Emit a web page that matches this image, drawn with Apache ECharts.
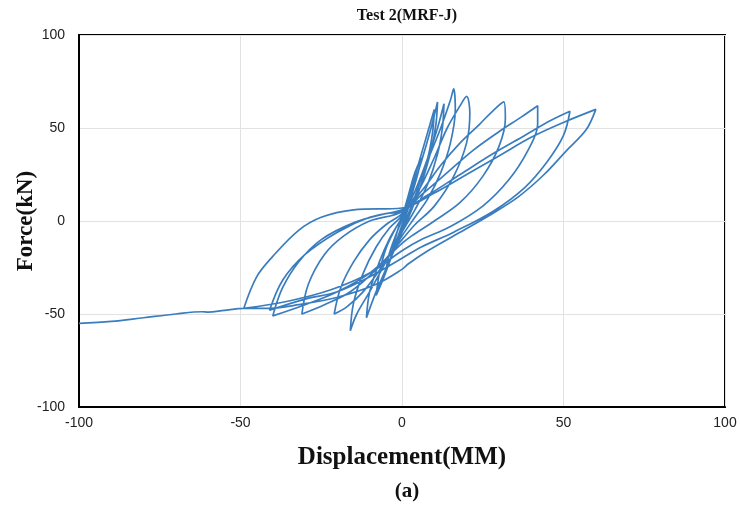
<!DOCTYPE html>
<html>
<head>
<meta charset="utf-8">
<script src="https://cdn.jsdelivr.net/npm/echarts@6/dist/echarts.min.js"></script>
<style>
  html, body { margin: 0; padding: 0; background: #fff; }
  #main { width: 740px; height: 507px; }
</style>
</head>
<body>
<div id="main"></div>
<script>
// hysteresis record, in test order [displacement mm, force kN]
var cycle1 = [[0,0],[1,6],[2,12],[3,16],[2.5,10],[1,2],[0,-4],[-1.5,-10],[-3,-16],[-2,-9],[-1,-3],[0,2]];
var cycle2 = [[2,14],[4,26],[6,34],[5,26],[3,14],[1,4],[0,-2],[-2,-12],[-4,-22],[-5,-27],[-4,-18],[-2,-8],[0,1]];
var cycle3 = [[3,18],[6,36],[8,48],[10,60],[9.5,48],[8,34],[5,18],[2,4],[0,-4],[-3,-18],[-6,-32],[-8,-40],[-7,-28],[-5,-15],[-2,-4],[0,2]];
var cycle4 = [[3,16],[6,32],[9,50],[11,64],[10.5,52],[9,38],[6,20],[3,6],[0,-6],[-4,-22],[-8,-38],[-11,-52],[-10,-38],[-7,-22],[-4,-10],[0,2]];
var cycle5 = [[4,16],[8,34],[11,50],[13,63],[12.5,50],[11,36],[8,20],[4,6],[0,-6],[-5,-22],[-10,-38],[-14,-50],[-16,-59],[-15,-44],[-12,-28],[-8,-14],[-4,-4],[0,3]];
var cycle6 = [[4,16],[8,33],[12,50],[15,65],[16,71],[16.5,60],[15,42],[12,26],[8,12],[4,2],[0,-8],[-6,-24],[-12,-38],[-17,-46],[-21,-50],[-19,-36],[-15,-22],[-10,-10],[-5,-2],[0,4]];
var cycle7 = [[5,16],[10,34],[14,50],[18,62],[20,67],[21,58],[20,42],[16,24],[10,8],[4,-2],[0,-10],[-8,-26],[-16,-38],[-24,-45],[-31,-50],[-29,-34],[-24,-18],[-18,-8],[-10,0],[0,5]];
var cycle8 = [[6,16],[12,30],[18,42],[24,52],[28,59],[31.5,64],[32,55],[30,40],[25,24],[18,10],[10,0],[3,-8],[0,-12],[-10,-28],[-20,-38],[-30,-45],[-40,-51],[-37,-36],[-32,-22],[-25,-10],[-15,-1],[-5,4],[0,5]];
var cycle9 = [[6,14],[14,26],[22,38],[30,48],[37,56],[42,62],[42,52],[39,38],[33,22],[25,8],[15,-3],[6,-10],[0,-16],[-10,-28],[-22,-37],[-35,-43],[-49,-47],[-45,-30],[-40,-19],[-32,-5],[-25,2],[-15,6],[0,7]];
var cycle10 = [[8,14],[18,25],[28,36],[38,46],[46,54],[52,59],[50,46],[45,32],[38,18],[28,5],[16,-6],[6,-14],[0,-20],[-10,-30],[-20,-38],[-30,-42],[-41,-48],[-37,-32],[-30,-18],[-20,-6],[-10,2],[0,6]];
var cycle11 = [[10,15],[20,25],[30,35],[40,45],[50,53],[60,60],[57,49],[51,38],[44,25],[36,13],[27,3],[17,-7],[8,-16],[2,-23],[0,-26],[-8,-34],[-20,-41],[-32,-45],[-42,-47],[-49,-47]];
var tail = [[-55,-48],[-60,-49],[-62,-48.8],[-70,-50],[-80,-52],[-90,-54],[-100,-55]];

var tickValues = [-100, -50, 0, 50, 100];

var record = [].concat(cycle1, cycle2, cycle3, cycle4, cycle5, cycle6,
  cycle7, cycle8, cycle9, cycle10, cycle11, tail);

var myChart = echarts.init(document.getElementById('main'));

var labelFont = "'Liberation Sans Narrow', 'Liberation Sans', sans-serif";
var titleFont = "'Liberation Serif', 'DejaVu Serif', serif";

var option = {
  animation: false,
  backgroundColor: '#fff',
  title: [{
    text: 'Test 2(MRF-J)',
    left: 402,
    top: 3,
    textAlign: 'center',
    textStyle: { fontFamily: titleFont, fontWeight: 'bold', fontSize: 16, color: '#111' }
  }, {
    text: '(a)',
    left: 402,
    top: 476,
    textAlign: 'center',
    textStyle: { fontFamily: titleFont, fontWeight: 'bold', fontSize: 21, color: '#111' }
  }],
  grid: {
    left: 79,
    right: 15,
    top: 35,
    bottom: 100,
    outerBoundsMode: 'none',
    containLabel: false,
    show: true,
    borderColor: '#000',
    borderWidth: 2
  },
  xAxis: {
    type: 'value',
    min: tickValues[0],
    max: tickValues[tickValues.length - 1],
    interval: 50,
    name: 'Displacement(MM)',
    nameLocation: 'middle',
    nameGap: 38,
    nameMoveOverlap: false,
    nameTextStyle: { fontFamily: titleFont, fontWeight: 'bold', fontSize: 25, color: '#111' },
    axisLine: { onZero: false, lineStyle: { color: '#000', width: 2 } },
    axisTick: { show: false },
    axisLabel: { margin: 9, fontFamily: labelFont, fontSize: 14, color: '#222' },
    splitLine: { lineStyle: { color: '#e2e2e2', width: 1 } }
  },
  yAxis: {
    type: 'value',
    min: tickValues[0],
    max: tickValues[tickValues.length - 1],
    interval: 50,
    name: 'Force(kN)',
    nameLocation: 'middle',
    nameGap: 41,
    nameMoveOverlap: false,
    nameTextStyle: { fontFamily: titleFont, fontWeight: 'bold', fontSize: 23, color: '#111' },
    axisLine: { onZero: false, lineStyle: { color: '#000', width: 2 } },
    axisTick: { show: false },
    axisLabel: { margin: 14, fontFamily: labelFont, fontSize: 14, color: '#222' },
    splitLine: { lineStyle: { color: '#e2e2e2', width: 1 } }
  },
  series: [{
    name: 'Test 2',
    type: 'line',
    data: record,
    smooth: 0.35,
    showSymbol: false,
    symbol: 'none',
    lineStyle: { color: '#3a7dbf', width: 1.7 }
  }]
};

myChart.setOption(option);
</script>
</body>
</html>
